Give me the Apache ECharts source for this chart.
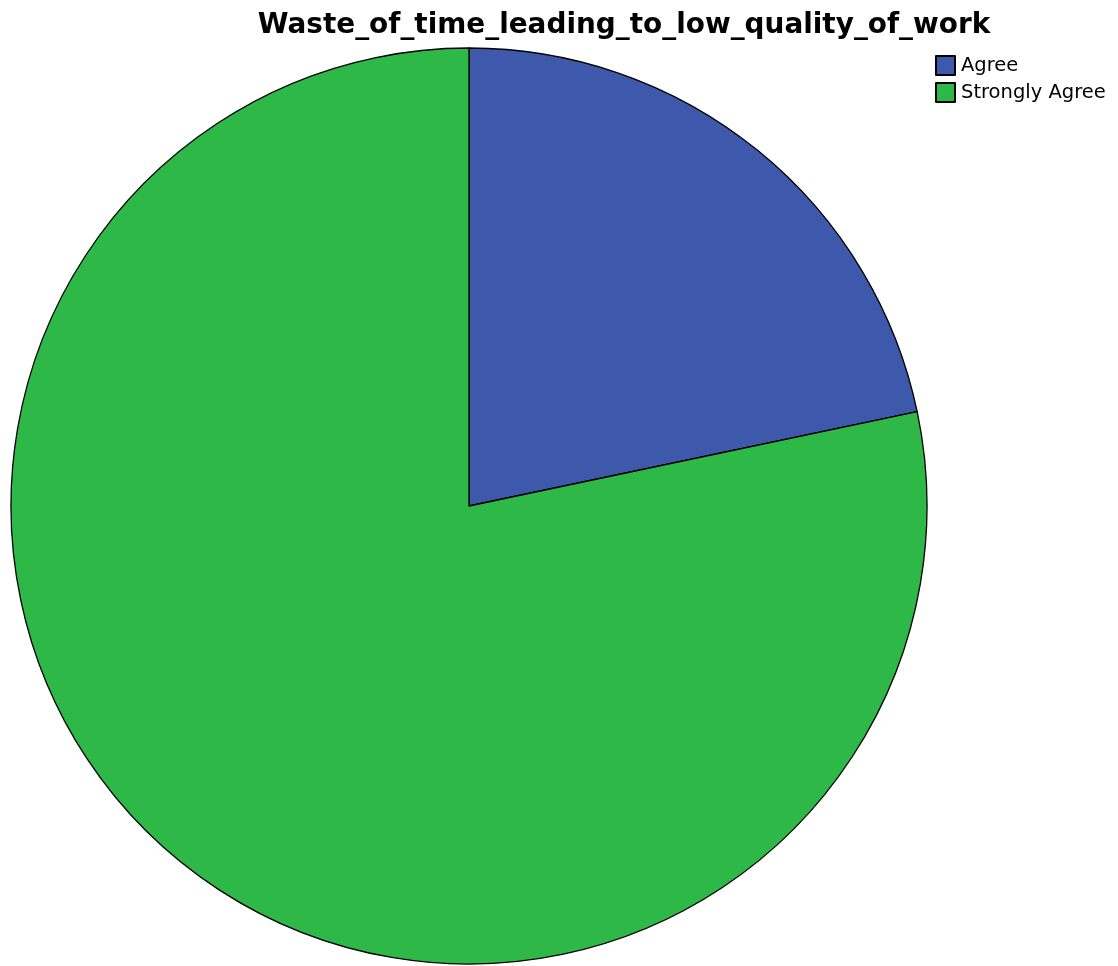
<!DOCTYPE html>
<html>
<head>
<meta charset="utf-8">
<script src="https://cdn.jsdelivr.net/npm/echarts@6/dist/echarts.min.js"></script>
<style>html,body{margin:0;padding:0;background:#fff}#c{width:1118px;height:966px}</style>
</head>
<body>
<div id="c"></div>
<script>
const titleText = 'Waste_of_time_leading_to_low_quality_of_work';
const categories = ['Agree', 'Strongly Agree'];
const values = [21.7, 78.3];
const colors = ['#3E58AC', '#2EB848'];

const chart = echarts.init(document.getElementById('c'), null, {renderer: 'canvas'});
chart.setOption({
  animation: false,
  backgroundColor: '#ffffff',
  title: {
    text: titleText,
    left: 619,
    top: 7,
    textAlign: 'center',
    textStyle: {fontFamily: 'DejaVu Sans, sans-serif', fontSize: 27.9, fontWeight: 'bold', color: '#000'}
  },
  legend: {
    orient: 'vertical',
    left: 930,
    top: 50,
    itemWidth: 19,
    itemHeight: 19,
    itemGap: 6,
    icon: 'rect',
    data: categories,
    textStyle: {fontFamily: 'DejaVu Sans, sans-serif', fontSize: 19.5, lineHeight: 20, color: '#000', padding: [0, 0, 0, 1]}
  },
  series: [{
    type: 'pie',
    center: [469, 506],
    radius: [0, 458],
    startAngle: 90,
    clockwise: true,
    label: {show: false},
    labelLine: {show: false},
    emphasis: {disabled: true},
    itemStyle: {borderColor: '#000', borderWidth: 1.3},
    data: categories.map((c, i) => ({name: c, value: values[i], itemStyle: {color: colors[i]}}))
  }]
});
</script>
</body>
</html>
